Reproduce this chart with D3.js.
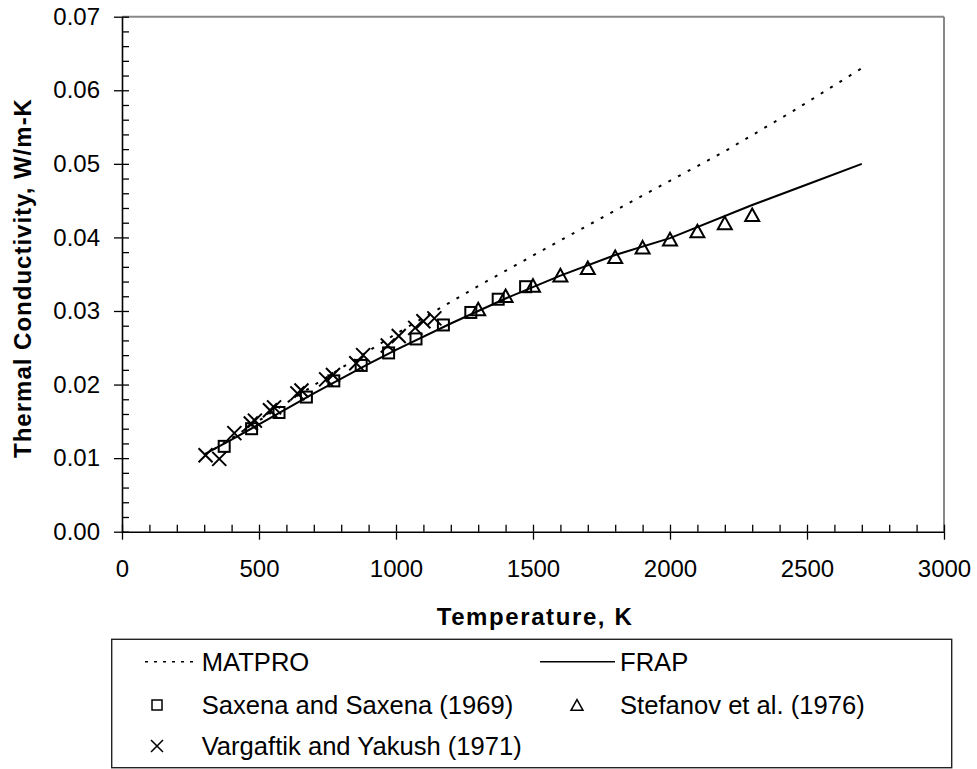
<!DOCTYPE html>
<html><head><meta charset="utf-8">
<script src="https://cdn.jsdelivr.net/npm/d3@7"></script>
<style>
body{margin:0;background:#fff;}
svg{display:block;font-family:"Liberation Sans",Arial,sans-serif;}
</style></head><body>
<svg id="c" width="977" height="769"></svg>
<script>
// ---- data ----
const matproT = [300, 400, 500, 700, 1000, 1300, 1600, 2000, 2200, 2450, 2700];
const matproK = [0.0104, 0.0127, 0.0151, 0.0199, 0.0269, 0.0334, 0.0396, 0.0477, 0.0517, 0.0572, 0.0630];
const frapT = [300, 400, 500, 600, 700, 800, 900, 1000, 1200, 1400, 1600, 1800, 2000, 2300, 2500, 2700];
const frapK = [0.0105, 0.0125, 0.0146, 0.0167, 0.0188, 0.0208, 0.0228, 0.0247, 0.0283, 0.0317, 0.0348, 0.0376, 0.0399, 0.0444, 0.0472, 0.0500];
const saxenaT = [373, 473, 573, 673, 773, 873, 973, 1073, 1173, 1273, 1373, 1473];
const saxenaK = [0.0116, 0.0140, 0.0162, 0.0183, 0.0205, 0.0226, 0.0243, 0.0262, 0.0281, 0.0298, 0.0316, 0.0333];
const stefanovT = [1300, 1400, 1500, 1600, 1700, 1800, 1900, 2000, 2100, 2200, 2300];
const stefanovK = [0.0301, 0.0319, 0.0333, 0.0347, 0.0357, 0.0372, 0.0385, 0.0396, 0.0407, 0.0418, 0.0429];
const vargaftikT = [305, 355, 410, 470, 485, 540, 555, 640, 655, 745, 770, 855, 880, 970, 1010, 1070, 1100, 1140];
const vargaftikK = [0.0104, 0.0099, 0.0134, 0.0147, 0.0151, 0.0165, 0.0169, 0.0188, 0.0192, 0.0207, 0.0213, 0.0229, 0.0240, 0.0253, 0.0266, 0.0277, 0.0286, 0.0290];
const xTicks = [0, 500, 1000, 1500, 2000, 2500, 3000];
const yTicks = [0.00, 0.01, 0.02, 0.03, 0.04, 0.05, 0.06, 0.07];
const xTitle = "Temperature, K";
const yTitle = "Thermal Conductivity, W/m-K";
const legendLabels = ["MATPRO", "FRAP", "Saxena and Saxena (1969)", "Stefanov et al. (1976)", "Vargaftik and Yakush (1971)"];

// ---- layout ----
const svg = d3.select("#c");
const L = 122, R = 944, T = 16.7, B = 531.7;
const x = d3.scaleLinear().domain([0, 3000]).range([L, R]);
const y = d3.scaleLinear().domain([0, 0.07]).range([B, T]);

svg.append("line").attr("x1", L).attr("x2", R).attr("y1", T).attr("y2", T).attr("stroke", "#888").attr("stroke-width", 2);
svg.append("line").attr("x1", R).attr("x2", R).attr("y1", T).attr("y2", B).attr("stroke", "#888").attr("stroke-width", 2);

const xMinor = d3.range(0, 3001, 100).filter(v => v % 500 !== 0);
const yMinor = d3.range(0, 36).map(i => i * 0.002).filter((v, i) => i % 5 !== 0);

function styleAxis(g){
  g.selectAll("path").attr("stroke", "#000").attr("stroke-width", 1.6);
  g.selectAll("line").attr("stroke", "#000").attr("stroke-width", 1.3);
  g.selectAll("text").attr("fill", "#000").attr("font-size", 24)
    .attr("font-family", "'Liberation Sans', Arial, sans-serif");
}
const gx = svg.append("g").attr("transform", `translate(0,${B})`)
  .call(d3.axisBottom(x).tickValues(xTicks).tickSizeInner(8).tickSizeOuter(0).tickPadding(20).tickFormat(d3.format("d")));
styleAxis(gx);
svg.append("g").attr("transform", `translate(0,${B})`)
  .call(d3.axisBottom(x).tickValues(xTicks.concat(xMinor)).tickSizeInner(-7).tickSizeOuter(0).tickFormat(""))
  .call(g => { g.select("path").remove(); g.selectAll("line").attr("stroke", "#000").attr("stroke-width", 1.3); });
const gy = svg.append("g").attr("transform", `translate(${L},0)`)
  .call(d3.axisLeft(y).tickValues(yTicks).tickSizeInner(8).tickSizeOuter(0).tickPadding(14).tickFormat(d3.format(".2f")));
styleAxis(gy);
svg.append("g").attr("transform", `translate(${L},0)`)
  .call(d3.axisLeft(y).tickValues(yTicks.concat(yMinor)).tickSizeInner(-7).tickSizeOuter(0).tickFormat(""))
  .call(g => { g.select("path").remove(); g.selectAll("line").attr("stroke", "#000").attr("stroke-width", 1.3); });

svg.append("text").attr("x", (L + R) / 2 + 2).attr("y", 625).attr("text-anchor", "middle")
  .attr("font-size", 24).attr("font-weight", "bold").attr("letter-spacing", 1.6).text(xTitle);
svg.append("text").attr("transform", `translate(31,278) rotate(-90)`).attr("text-anchor", "middle")
  .attr("font-size", 24).attr("font-weight", "bold").attr("letter-spacing", 1.0).text(yTitle);

const line = d3.line().x(d => x(d[0])).y(d => y(d[1]));
const matpro = matproT.map((t, i) => [t, matproK[i]]);
const frap = frapT.map((t, i) => [t, frapK[i]]);
svg.append("path").datum(matpro).attr("d", line).attr("fill", "none").attr("stroke", "#000")
  .attr("stroke-width", 2).attr("stroke-dasharray", "3,8");
svg.append("path").datum(frap).attr("d", line).attr("fill", "none").attr("stroke", "#000").attr("stroke-width", 2);

function square(g, cx, cy, s, w){
  g.append("rect").attr("x", cx - s / 2).attr("y", cy - s / 2).attr("width", s).attr("height", s)
    .attr("fill", "none").attr("stroke", "#000").attr("stroke-width", w);
}
function tri(g, cx, cy, s, w){
  const h = s * 0.9;
  g.append("path").attr("d", `M${cx},${cy - h * 0.6}L${cx + s / 2},${cy + h * 0.4}L${cx - s / 2},${cy + h * 0.4}Z`)
    .attr("fill", "none").attr("stroke", "#000").attr("stroke-width", w);
}
function cross(g, cx, cy, s, w){
  const h = s / 2;
  g.append("path").attr("d", `M${cx - h},${cy - h}L${cx + h},${cy + h}M${cx - h},${cy + h}L${cx + h},${cy - h}`)
    .attr("stroke", "#000").attr("stroke-width", w);
}
const gm = svg.append("g");
saxenaT.forEach((t, i) => square(gm, x(t), y(saxenaK[i]), 11, 2));
stefanovT.forEach((t, i) => tri(gm, x(t), y(stefanovK[i]), 14, 2));
vargaftikT.forEach((t, i) => cross(gm, x(t), y(vargaftikK[i]), 14, 2));

const lg = svg.append("g");
lg.append("rect").attr("x", 111.7).attr("y", 639.3).attr("width", 840).attr("height", 128.4)
  .attr("fill", "none").attr("stroke", "#222").attr("stroke-width", 1.4);
const rows = [661.7, 705, 746];
const fs = 25.6;
lg.append("line").attr("x1", 145).attr("x2", 197).attr("y1", rows[0]).attr("y2", rows[0])
  .attr("stroke", "#000").attr("stroke-width", 1.5).attr("stroke-dasharray", "3,6");
lg.append("text").attr("x", 201.7).attr("y", rows[0]).attr("dy", "0.36em").attr("font-size", fs).text(legendLabels[0]);
lg.append("line").attr("x1", 540).attr("x2", 615).attr("y1", rows[0]).attr("y2", rows[0])
  .attr("stroke", "#000").attr("stroke-width", 1.5);
lg.append("text").attr("x", 620).attr("y", rows[0]).attr("dy", "0.36em").attr("font-size", fs).text(legendLabels[1]);
square(lg, 157, rows[1], 10, 1.5);
lg.append("text").attr("x", 201.7).attr("y", rows[1]).attr("dy", "0.36em").attr("font-size", fs).text(legendLabels[2]);
tri(lg, 577, rows[1] + 1, 12, 1.5);
lg.append("text").attr("x", 620).attr("y", rows[1]).attr("dy", "0.36em").attr("font-size", fs).text(legendLabels[3]);
cross(lg, 157, rows[2], 12, 1.5);
lg.append("text").attr("x", 201.7).attr("y", rows[2]).attr("dy", "0.36em").attr("font-size", fs).text(legendLabels[4]);
</script></body></html>
